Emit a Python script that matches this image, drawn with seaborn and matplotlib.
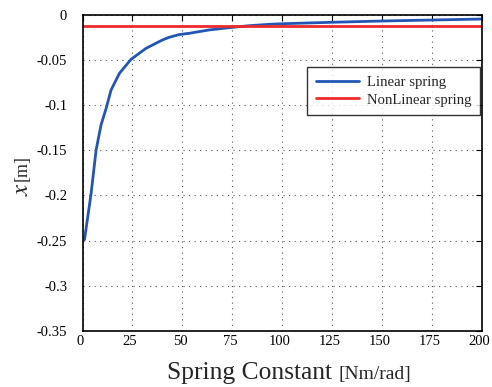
"""Deflection vs spring constant, linear vs nonlinear spring."""

import matplotlib
matplotlib.use("Agg")
import matplotlib.pyplot as plt
import matplotlib.transforms as mtransforms
import pandas as pd
import seaborn as sns

# values
k_linear = [1, 4.3, 6.8, 9.3, 11.8, 14.3, 18.5, 24.3, 31.8, 40, 43.4, 48.4,
            53.4, 63.3, 73.3, 83.3, 93.3, 100, 125, 150, 175, 200]
x_linear = [-0.249, -0.198, -0.150, -0.122, -0.104, -0.0835, -0.065, -0.0496,
            -0.0374, -0.0282, -0.0252, -0.0222, -0.0208, -0.0171, -0.0146,
            -0.0124, -0.0109, -0.0102, -0.0086, -0.0072, -0.0061, -0.005]
k_nonlinear = [0, 200]
x_nonlinear = [-0.0125, -0.0125]

labels = ["Linear spring", "NonLinear spring"]
colors = ["#2356b4", "#ee2a2a"]
x_ticks = [0, 25, 50, 75, 100, 125, 150, 175, 200]
y_ticks = [0, -0.05, -0.1, -0.15, -0.2, -0.25, -0.3, -0.35]
y_tick_labels = ["0", "-0.05", "-0.1", "-0.15", "-0.2", "-0.25", "-0.3", "-0.35"]

W, H = 492, 387


def build_frame():
    """Long-form table for seaborn."""
    a = pd.DataFrame({"k": k_linear, "x": x_linear, "spring": labels[0]})
    b = pd.DataFrame({"k": k_nonlinear, "x": x_nonlinear, "spring": labels[1]})
    return pd.concat([a, b], ignore_index=True)


sns.set_theme(style="white")
plt.rcParams["font.family"] = ["Liberation Serif", "DejaVu Serif"]
plt.rcParams["mathtext.fontset"] = "stix"

fig = plt.figure(figsize=(W / 100, H / 100), dpi=100)
ax = fig.add_axes([82.5 / W, 1 - 331 / H, 399.5 / W, 316.5 / H])

df = build_frame()
sns.lineplot(data=df, x="k", y="x", hue="spring", palette=colors,
             linewidth=2.0, ax=ax, sort=False)

ax.set_xlim(0, 200)
ax.set_ylim(-0.35, 0)
ax.set_xticks(x_ticks)
ax.set_yticks(y_ticks)
ax.set_yticklabels(y_tick_labels)
ax.tick_params(direction="in", length=4, width=0.8, top=True, right=True,
               labelsize=10.5, colors="black")
ax.tick_params(axis="x", pad=3)
ax.tick_params(axis="y", pad=11)
# labels sit a little left of their ticks, as in the reference
shift = mtransforms.ScaledTranslation(-2.5 / 100, 0, fig.dpi_scale_trans)
for lab in ax.get_xticklabels():
    lab.set_transform(lab.get_transform() + shift)

ax.grid(True, linestyle=(0, (1, 4)), color="#555555", linewidth=0.8)
for s in ax.spines.values():
    s.set_color("black")
    s.set_linewidth(1.2)

ax.set_xlabel("")
ax.set_ylabel("")
fig.text(167 / W, 1 - 379 / H, "Spring Constant", fontsize=18.4,
         ha="left", va="baseline")
fig.text(339 / W, 1 - 379 / H, "[Nm/rad]", fontsize=14,
         ha="left", va="baseline")
fig.text(22 / W, 1 - 168 / H, "[m]", fontsize=13, rotation=90,
         ha="center", va="center")
fig.text(22 / W, 1 - 189 / H, r"$x$", fontsize=18, rotation=90,
         ha="center", va="center")

leg = ax.legend(loc="upper right", bbox_to_anchor=(0.995, 0.835), fontsize=10.6,
                frameon=True, fancybox=False, handlelength=2.9,
                borderpad=0.6, labelspacing=0.3, handletextpad=0.55,
                borderaxespad=0)
leg.get_frame().set_edgecolor("black")
leg.get_frame().set_linewidth(1.0)
leg.set_title(None)

fig.savefig("out.png", dpi=100)
